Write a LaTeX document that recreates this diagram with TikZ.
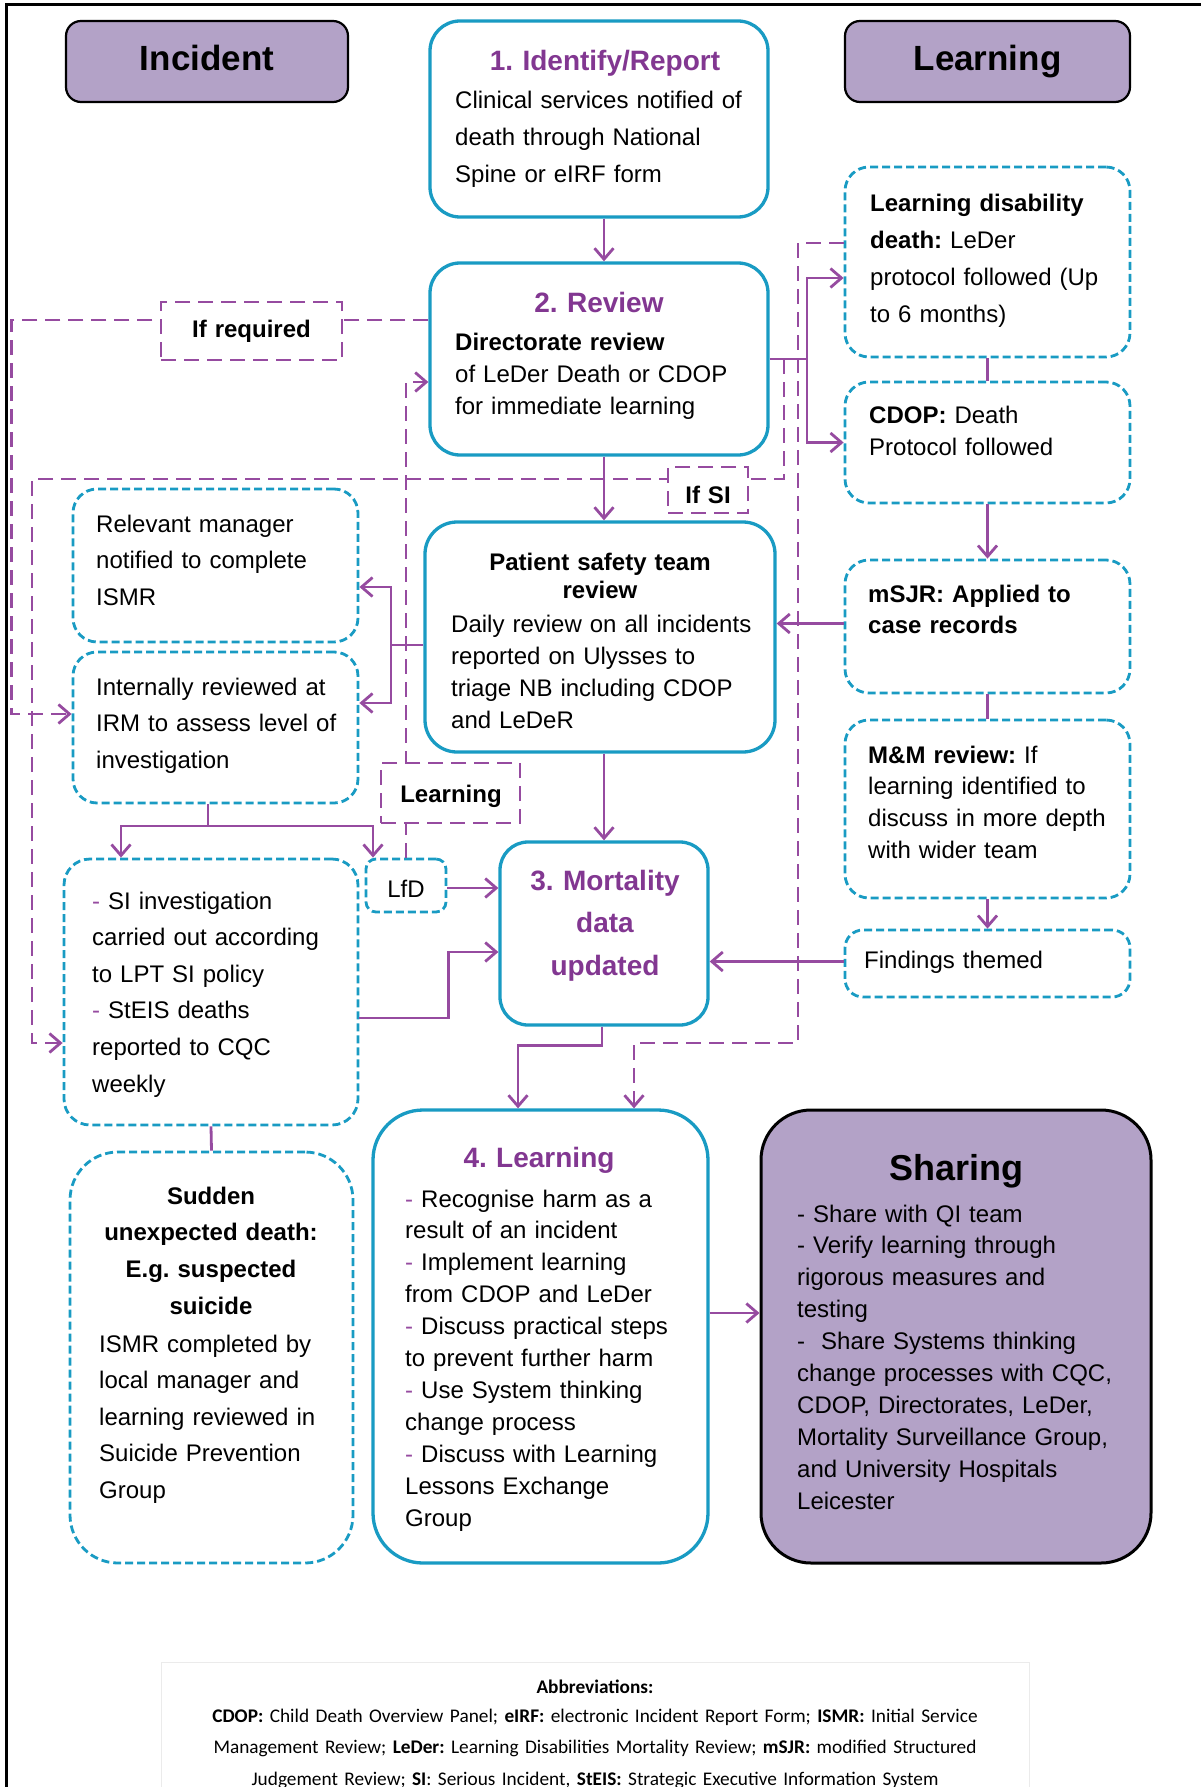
\documentclass[tikz,border=0pt]{standalone}
\usepackage{fontspec}
\setmainfont{Liberation Sans}
\newfontfamily\abbrfont{Carlito}
\usetikzlibrary{arrows.meta,calc}
\definecolor{pl}{RGB}{150,75,160}
\definecolor{ph}{RGB}{130,55,145}
\definecolor{tl}{RGB}{25,155,195}
\definecolor{hf}{RGB}{179,162,199}
\newcommand{\myfs}[2]{\fontsize{#1}{#2}\selectfont}
\frenchspacing
\begin{document}
\frenchspacing
\begin{tikzpicture}[x=1pt,y=-1pt,
  box/.style={rectangle, inner sep=0pt, fill=white},
  sbox/.style={box, draw=tl, line width=3.3pt, rounded corners=#1},
  dbox/.style={box, draw=tl, line width=2.8pt, dash pattern=on 8pt off 4pt, rounded corners=#1},
  hdrbox/.style={rectangle, inner sep=0pt, draw=black, line width=2.2pt, fill=hf, rounded corners=15pt},
  lblbox/.style={rectangle, inner sep=0pt, draw=pl, line width=2.8pt, dash pattern=on 15pt off 8pt, fill=white},
  con/.style={draw=pl, line width=2.8pt},
  arr/.style={con, -{Straight Barb[length=11pt,width=19pt]}},
  dcon/.style={con, dash pattern=on 15pt off 8pt},
  darr/.style={dcon, -{Straight Barb[length=11pt,width=19pt]}},
  lt/.style={inner sep=0pt, anchor=base west, align=left, text width=#1},
  ct/.style={inner sep=0pt, anchor=base, align=center, text width=#1},
  body/.style={font=\frenchspacing\myfs{24}{#1}},
  bbody/.style={font=\frenchspacing\myfs{24}{#1}\bfseries},
  head/.style={font=\frenchspacing\myfs{28}{#1}\bfseries, text=ph},
]
\useasboundingbox (0,0) rectangle (1200,1787);

% frame
\draw[line width=3pt] (6,1795) -- (6,5) -- (1205,5);

% header boxes
\node[hdrbox, minimum width=282pt, minimum height=81pt] (inc) at (207,61.5) {};
\node[ct=282pt, font=\myfs{35}{40}\bfseries] (inct) at (207,71) {Incident};
\node[hdrbox, minimum width=285pt, minimum height=81pt] (lrn) at (987.5,61.5) {};
\node[ct=285pt, font=\myfs{35}{40}\bfseries] (lrnt) at (987.5,71) {Learning};

% box 1
\node[sbox=30pt, minimum width=338pt, minimum height=196pt] (b1) at (599,119) {};
\node[ct=330pt, head=34] (b1h) at (605,71) {1. Identify/Report};
\node[lt=300pt, body=37] (b1t) at (455,109) {Clinical services notified of\\death through National\\Spine or eIRF form};

% box 2
\node[sbox=30pt, minimum width=338pt, minimum height=192pt] (b2) at (599,359) {};
\node[ct=330pt, head=34] (b2h) at (599,312) {2. Review};
\node[lt=300pt, body=32] (b2t) at (455,350) {\textbf{Directorate review}\\of LeDer Death or CDOP\\for immediate learning};

% patient safety
\node[sbox=32pt, minimum width=350pt, minimum height=230pt] (ps) at (600,637) {};
\node[ct=330pt, bbody=28] (psh) at (600,570) {Patient safety team\\review};
\node[lt=315pt, body=32] (pst) at (451,632) {Daily review on all incidents\\reported on Ulysses to\\triage NB including CDOP\\and LeDeR};

% left column
\node[dbox=24pt, minimum width=285pt, minimum height=153pt] (rm) at (215.5,565.5) {};
\node[lt=255pt, body=36.5] (rmt) at (96,532) {Relevant manager\\notified to complete\\ISMR};
\node[dbox=24pt, minimum width=285pt, minimum height=151pt] (ir) at (215.5,727.5) {};
\node[lt=255pt, body=36.5] (irt) at (96,695) {Internally reviewed at\\IRM to assess level of\\investigation};
\node[dbox=26pt, minimum width=294pt, minimum height=266pt] (si) at (211,992) {};
\node[lt=260pt, body=36.6] (sit) at (92,909) {{\color{pl}-} SI investigation\\carried out according\\to LPT SI policy\\{\color{pl}-} StEIS deaths\\reported to CQC\\weekly};
\node[dbox=48pt, minimum width=283pt, minimum height=411pt] (sud) at (211.5,1357.5) {};
\node[ct=270pt, bbody=36.75] (sudh) at (211,1204) {Sudden\\unexpected death:\\E.g. suspected\\suicide};
\node[lt=250pt, body=36.5] (sudt) at (99,1352) {ISMR completed by\\local manager and\\learning reviewed in\\Suicide Prevention\\Group};

% LfD and mortality
\node[dbox=10pt, minimum width=80pt, minimum height=53pt] (lfd) at (406,885.5) {};
\node[ct=70pt, body=28] (lfdt) at (406,897) {LfD};
\node[sbox=28pt, minimum width=208pt, minimum height=183pt] (mort) at (604,933.5) {};
\node[ct=200pt, head=42.5] (mortt) at (605,890) {3. Mortality\\data\\updated};

% box 4
\node[sbox=50pt, minimum width=335pt, minimum height=453pt] (b4) at (540.5,1336.5) {};
\node[ct=320pt, head=34] (b4h) at (539,1167) {4. Learning};
\node[lt=300pt, body=31.9] (b4t) at (405,1207) {{\color{pl}-} Recognise harm as a\\result of an incident\\{\color{pl}-} Implement learning\\from CDOP and LeDer\\{\color{pl}-} Discuss practical steps\\to prevent further harm\\{\color{pl}-} Use System thinking\\change process\\{\color{pl}-} Discuss with Learning\\Lessons Exchange\\Group};

% sharing
\node[rectangle, inner sep=0pt, draw=black, line width=3pt, fill=hf, rounded corners=50pt, minimum width=390pt, minimum height=453pt] (shr) at (956,1336.5) {};
\node[ct=370pt, font=\myfs{36}{40}\bfseries] (shrh) at (956,1180) {Sharing};
\node[lt=345pt, body=31.9] (shrt) at (797,1222) {- Share with QI team\\- Verify learning through\\rigorous measures and\\testing\\-\ \ Share Systems thinking\\change processes with CQC,\\CDOP, Directorates, LeDer,\\Mortality Surveillance Group,\\and University Hospitals\\Leicester};

% right column
\node[dbox=24pt, minimum width=285pt, minimum height=190pt] (ld) at (987.5,262) {};
\node[lt=255pt, body=36.7] (ldt) at (870,212) {\textbf{Learning disability}\\\textbf{death:} LeDer\\protocol followed (Up\\to 6 months)};
\node[dbox=24pt, minimum width=285pt, minimum height=121pt] (cdop) at (987.5,442.5) {};
\node[lt=255pt, body=32] (cdopt) at (869,423) {\textbf{CDOP:} Death\\Protocol followed};
\node[dbox=24pt, minimum width=285pt, minimum height=133pt] (msjr) at (987.5,626.5) {};
\node[lt=255pt, body=31] (msjrt) at (868,602) {\textbf{mSJR: Applied to}\\\textbf{case records}};
\node[dbox=24pt, minimum width=285pt, minimum height=178pt] (mm) at (987.5,809) {};
\node[lt=255pt, body=31.7] (mmt) at (868,763) {\textbf{M\&M review:} If\\learning identified to\\discuss in more depth\\with wider team};
\node[dbox=18pt, minimum width=285pt, minimum height=67pt] (fnd) at (987.5,963.5) {};
\node[lt=255pt, body=30] (fndt) at (864,968) {Findings themed};

% junctions
\coordinate (jr) at (807,359);
\coordinate (jsi) at (784,359);
\coordinate (jl) at (391,645);
\coordinate (jb) at (208,826);
\coordinate (csi) at (32,479);
\coordinate (cld) at (798,1043);

% solid connectors
\draw[arr] (b1.south -| mort) -- (b2.north -| mort);
\draw[arr] (b2.south -| mort) -- (ps.north -| mort);
\draw[arr] (ps.south -| mort) -- (mort.north);
\draw[con] (b2.east) -- (jr);
\draw[arr] (jr) |- ($(ld.west)+(0,16)$);
\draw[arr] (jr) |- (cdop.west);
\draw[con] (ld.south) -- (cdop.north);
\draw[arr] (cdop.south) -- (msjr.north);
\draw[con] (msjr.south) -- (mm.north);
\draw[arr] (mm.south) -- (fnd.north);
\draw[arr] ($(msjr.west)+(0,-3)$) -- ($(msjr.west -| ps.east)+(0,-3)$);
\draw[arr] ($(fnd.west)+(0,-2)$) -- ($(fnd.west -| mort.east)+(0,-2)$);
\draw[con] ($(ps.west)+(0,8)$) -- (jl);
\draw[arr] (jl) |- ($(rm.east)+(0,21.5)$);
\draw[arr] (jl) |- ($(ir.east)+(0,-24.5)$);
\draw[con] (ir.south -| jb) -- (jb);
\draw[arr] (jb) -| ($(si.north)+(-90,0)$);
\draw[arr] (jb) -| ($(lfd.north)+(-33,0)$);
\draw[con] (si.south) -- (sud.north);
\draw[arr] ($(si.east)+(0,26)$) -- ++(89,0) |- ($(mort.west)+(0,18.5)$);
\draw[arr] ($(lfd.east)+(0,2.5)$) -- ($(lfd.east -| mort.west)+(0,2.5)$);
\draw[arr] ($(mort.south)+(-2,0)$) -- ++(0,19) -| ($(b4.north)+(-22.5,0)$);
\draw[arr] ($(b4.east)+(0,-23.5)$) -- ($(b4.east -| shr.west)+(0,-23.5)$);

% dashed connectors
\draw[darr] ($(b2.west)+(0,-39)$) -- ++(-417,0) |- ($(ir.west)+(0,-13.5)$);
\draw[darr] (jsi) |- (csi) |- ($(si.west)+(0,51)$);
\draw[darr] (lfd.north) |- ($(b2.west)+(0,23)$);
\draw[darr] ($(ld.west)+(0,-19)$) -| (cld) -| ($(b4.north)+(93.5,0)$);

% labels on dashed connectors
\node[lblbox, minimum width=181pt, minimum height=58pt] (lreq) at (251.5,331) {};
\node[ct=170pt, bbody=28] (lreqt) at (251.5,337) {If required};
\node[lblbox, minimum width=80pt, minimum height=46pt] (lsi) at (708,490) {};
\node[ct=75pt, bbody=28] (lsit) at (708,503) {If SI};
\node[lblbox, minimum width=139pt, minimum height=60pt] (llrn) at (450.5,793) {};
\node[ct=130pt, bbody=28] (llrnt) at (451,802) {Learning};

% abbreviations
\node[rectangle, inner sep=0pt, draw=black!8, line width=1pt, minimum width=868pt, minimum height=160pt] (abb) at (595,1742) {};
\node[ct=860pt, font=\frenchspacing\abbrfont\myfs{19.3}{31.5}\bfseries] (abbh) at (595,1693) {Abbreviations:};
\node[ct=860pt, font=\frenchspacing\abbrfont\myfs{19.3}{31.5}] (abbt) at (595,1722) {\textbf{CDOP:} Child Death Overview Panel; \textbf{eIRF:} electronic Incident Report Form; \textbf{ISMR:} Initial Service\\Management Review; \textbf{LeDer:} Learning Disabilities Mortality Review; \textbf{mSJR:} modified Structured\\Judgement Review; \textbf{SI}: Serious Incident, \textbf{StEIS:} Strategic Executive Information System};
\end{tikzpicture}
\end{document}
